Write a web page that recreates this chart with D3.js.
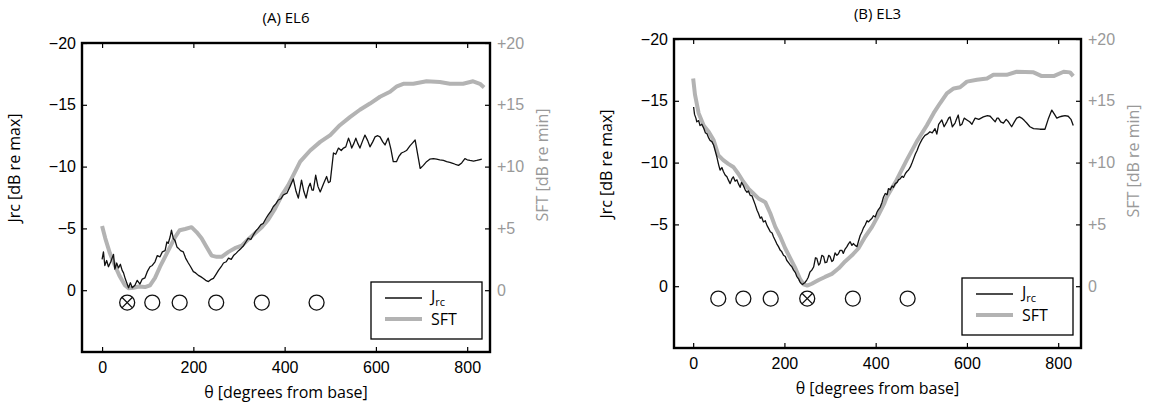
<!DOCTYPE html>
<meta charset="utf-8">
<style>
  body { margin: 0; background: #fff; }
  svg { font-family: "Open Sans", "DejaVu Sans", sans-serif; }
</style>
<body>
<svg width="1151" height="411"></svg>
<script src="https://cdn.jsdelivr.net/npm/d3@7"></script>
<script>

// ---- data: [theta (deg), dB] ----
var jrcA = [[0,-2.5],[3,-3.1],[6,-2.0],[10,-2.4],[14,-1.9],[19,-2.3],[25,-2.9],[28,-1.7],[32,-2.2],[36,-1.8],[40,-2.1],[44,-1.6],[47,-1.4],[51,-0.9],[54,-0.6],[58,-0.2],[62,-0.6],[66,-0.2],[72,-0.4],[77,-0.8],[83,-0.5],[88,-0.9],[94,-1.0],[99,-1.5],[105,-1.9],[110,-2.0],[116,-2.3],[121,-2.8],[127,-2.7],[132,-3.1],[138,-3.2],[142,-3.9],[145,-3.8],[149,-4.3],[152,-4.85],[156,-4.2],[160,-4.0],[164,-3.5],[167,-3.4],[172,-3.2],[178,-3.1],[183,-2.6],[189,-2.2],[194,-1.9],[200,-1.5],[205,-1.4],[211,-1.2],[216,-1.1],[222,-0.95],[227,-0.8],[233,-0.7],[238,-0.85],[244,-0.95],[250,-1.3],[255,-1.6],[261,-1.9],[266,-2.2],[272,-2.3],[277,-2.6],[283,-2.5],[288,-2.8],[294,-3.0],[299,-3.2],[305,-3.4],[310,-3.6],[315,-3.9],[320,-4.2],[326,-4.1],[331,-4.45],[337,-4.8],[342,-5.0],[348,-5.3],[353,-5.4],[359,-5.8],[364,-6.1],[370,-6.4],[375,-6.75],[381,-7.0],[386,-7.3],[392,-7.4],[397,-7.7],[405,-7.85],[412,-8.4],[419,-9.0],[425,-8.0],[430,-7.45],[437,-8.9],[442,-8.0],[447,-7.45],[452,-8.3],[456,-8.65],[460,-8.1],[463,-8.1],[468,-9.3],[473,-8.4],[478,-7.95],[485,-8.6],[492,-9.2],[496,-8.7],[500,-8.8],[507,-11.1],[512,-11.0],[518,-11.5],[524,-11.3],[529,-11.5],[534,-11.6],[540,-12.3],[544,-11.9],[547,-11.5],[552,-11.9],[556,-12.3],[560,-11.9],[565,-11.5],[570,-12.0],[576,-12.55],[582,-12.1],[587,-11.6],[593,-12.0],[598,-12.4],[604,-12.5],[609,-12.4],[615,-12.0],[620,-11.75],[624,-12.1],[627,-12.3],[633,-11.4],[638,-10.4],[645,-10.4],[650,-10.8],[656,-11.1],[662,-11.2],[667,-11.3],[675,-11.7],[680,-11.9],[686,-12.15],[697,-9.85],[704,-10.1],[711,-10.4],[718,-10.6],[726,-10.65],[733,-10.6],[740,-10.55],[748,-10.5],[755,-10.4],[762,-10.35],[770,-10.25],[776,-10.15],[781,-10.1],[788,-10.3],[795,-10.65],[800,-10.55],[806,-10.5],[814,-10.45],[821,-10.5],[826,-10.55],[832,-10.6]]

var sftA = [[0,5.2],[7,4.2],[17,3.0],[28,2.0],[39,1.1],[50,0.4],[58,0.15],[69,0.2],[80,0.3],[94,0.25],[105,0.4],[116,1.0],[127,1.9],[138,2.7],[149,3.5],[160,4.3],[170,4.85],[182,4.95],[196,5.1],[207,4.7],[218,4.2],[229,3.5],[240,2.8],[251,2.7],[262,2.7],[277,3.1],[291,3.4],[306,3.6],[320,4.1],[335,4.6],[350,5.1],[364,5.7],[379,6.6],[394,7.7],[408,8.5],[423,9.6],[434,10.4],[456,11.3],[478,12.0],[500,12.55],[521,13.35],[543,14.0],[565,14.6],[587,15.1],[609,15.65],[631,16.05],[646,16.5],[660,16.7],[682,16.7],[711,16.9],[740,16.85],[762,16.7],[791,16.7],[813,16.9],[828,16.7],[837,16.4]]

var jrcB = [[1,-14.5],[3,-13.9],[6,-13.6],[8,-13.3],[12,-13.4],[15,-13.0],[19,-13.1],[23,-12.8],[27,-12.4],[30,-12.35],[34,-12.0],[37,-11.8],[41,-11.7],[45,-11.4],[48,-11.0],[52,-10.45],[56,-9.8],[59,-9.4],[63,-9.6],[66,-9.3],[70,-9.0],[74,-8.85],[77,-8.6],[81,-8.3],[85,-8.7],[88,-8.85],[92,-8.5],[96,-8.6],[99,-8.3],[103,-8.0],[106,-8.4],[110,-8.15],[114,-7.8],[118,-7.6],[121,-7.7],[125,-7.35],[129,-7.3],[132,-7.0],[136,-6.6],[140,-6.15],[143,-5.9],[147,-5.5],[150,-5.6],[154,-5.2],[158,-5.3],[162,-4.9],[165,-4.7],[169,-4.4],[173,-4.3],[176,-4.0],[180,-3.7],[183,-3.45],[187,-3.2],[191,-2.9],[194,-2.8],[198,-2.5],[202,-2.4],[205,-2.1],[209,-1.9],[213,-1.7],[216,-1.6],[220,-1.3],[224,-1.1],[227,-0.8],[231,-0.6],[234,-0.35],[237,-0.2],[240,-0.15],[245,-0.3],[249,-0.5],[252,-0.7],[256,-1.15],[260,-1.3],[264,-1.55],[268,-2.3],[271,-2.25],[275,-1.7],[278,-1.85],[282,-2.5],[286,-2.4],[289,-1.9],[293,-1.95],[297,-2.5],[300,-2.4],[304,-2.0],[307,-2.1],[311,-2.7],[315,-2.5],[318,-2.6],[322,-2.9],[326,-2.9],[329,-2.65],[333,-3.0],[337,-3.2],[340,-3.4],[344,-3.6],[348,-3.3],[351,-3.45],[355,-3.3],[359,-3.2],[362,-3.6],[366,-4.1],[370,-4.4],[373,-4.7],[377,-4.95],[381,-5.3],[384,-5.2],[388,-5.35],[392,-5.5],[395,-5.7],[399,-5.6],[403,-6.0],[406,-6.2],[410,-6.4],[414,-6.8],[417,-7.2],[421,-7.5],[425,-7.4],[428,-7.9],[432,-7.8],[436,-8.1],[439,-8.0],[443,-8.3],[447,-8.4],[450,-8.6],[454,-8.7],[458,-8.9],[461,-8.8],[465,-9.1],[469,-9.3],[472,-9.4],[476,-9.65],[480,-10.0],[483,-10.3],[487,-10.7],[491,-11.0],[494,-11.3],[497,-11.55],[502,-11.9],[508,-12.2],[513,-12.3],[519,-12.5],[524,-12.4],[530,-12.75],[534,-12.3],[538,-13.1],[545,-13.45],[550,-12.9],[556,-13.3],[560,-13.6],[563,-13.7],[568,-12.9],[574,-13.2],[577,-13.5],[581,-13.85],[585,-13.0],[589,-13.1],[594,-13.6],[600,-13.45],[606,-13.3],[611,-13.1],[615,-13.4],[618,-13.6],[626,-13.5],[636,-13.7],[645,-13.8],[651,-13.75],[657,-13.5],[662,-13.3],[666,-13.6],[669,-13.6],[674,-13.3],[680,-13.2],[686,-13.5],[691,-13.3],[698,-12.9],[704,-13.3],[709,-13.6],[715,-13.7],[720,-13.6],[726,-13.4],[731,-13.2],[738,-12.9],[746,-12.75],[760,-12.7],[771,-12.7],[778,-13.5],[786,-14.25],[792,-13.9],[797,-13.6],[803,-13.7],[808,-13.75],[815,-13.8],[822,-13.75],[828,-13.5],[833,-13.0]]

var sftB = [[0,16.8],[4,15.5],[12,14.0],[23,13.0],[34,12.5],[45,11.8],[55,10.6],[66,10.2],[77,9.9],[88,9.65],[99,9.1],[110,8.45],[121,7.9],[132,7.5],[143,7.1],[158,6.8],[169,5.9],[180,4.8],[191,4.0],[202,3.05],[213,2.25],[224,1.45],[234,0.6],[242,0.15],[250,0.05],[260,0.2],[275,0.5],[289,0.75],[304,1.0],[319,1.45],[333,2.0],[348,2.5],[362,3.05],[377,4.0],[392,4.8],[406,5.75],[419,6.7],[424,7.2],[446,8.6],[468,10.2],[490,11.7],[512,13.0],[527,14.0],[541,14.8],[556,15.6],[571,16.0],[585,16.1],[600,16.55],[622,16.7],[644,16.8],[658,17.1],[687,17.1],[709,17.35],[746,17.3],[764,17.0],[790,17.0],[812,17.35],[826,17.3],[833,17.0]]

// electrode positions (degrees), drawn as circles just under 0 dB
var electrodes = [55, 110, 170, 250, 350, 470]
var markerLevel = 1

var xTicks = [0, 200, 400, 600, 800]
var jrcTicks = [-20, -15, -10, -5, 0]
var sftTicks = [0, 5, 10, 15, 20]

var panels = [
  { title: '(A) EL6', jrc: jrcA, sft: sftA, crossed: 55, left: 82, top: 43, width: 408, height: 309, xmin: -44 },
  { title: '(B) EL3', jrc: jrcB, sft: sftB, crossed: 250, left: 674, top: 39, width: 407, height: 309, xmin: -42 }
]

var svg = d3.select('svg')
var gray = '#b3b3b3'
var labelGray = '#999'

panels.forEach(function (p) {
  var g = svg.append('g').attr('transform', 'translate(' + p.left + ',' + p.top + ')')

  var x = d3.scaleLinear().domain([p.xmin, 850]).range([0, p.width])
  var yJ = d3.scaleLinear().domain([-20, 5]).range([0, p.height])
  var yS = d3.scaleLinear().domain([20, -5]).range([0, p.height])

  // axes (ticks point inwards like matlab)
  g.append('g').attr('transform', 'translate(0,' + p.height + ')')
    .call(d3.axisBottom(x).tickValues(xTicks).tickSize(-5).tickPadding(10))
  g.append('g').call(d3.axisTop(x).tickValues(xTicks).tickSize(-5).tickFormat(''))
  g.append('g').call(d3.axisLeft(yJ).tickValues(jrcTicks).tickSize(-5).tickPadding(6))
  var ar = g.append('g').attr('transform', 'translate(' + p.width + ',0)')
    .call(d3.axisRight(yS).tickValues(sftTicks).tickSize(-5).tickPadding(7)
      .tickFormat(function (d) { return d === 0 ? '0' : '+' + d }))
  g.selectAll('.domain').remove()
  g.selectAll('.tick line').attr('stroke', '#000').attr('stroke-width', 1.2)
  g.selectAll('.tick text').attr('fill', '#000').style('font-size', '16px').attr('font-family', null)
  ar.selectAll('text').attr('fill', labelGray)

  // data lines
  var lineS = d3.line().x(function (d) { return x(d[0]) }).y(function (d) { return yS(d[1]) })
  var lineJ = d3.line().x(function (d) { return x(d[0]) }).y(function (d) { return yJ(d[1]) })

  g.append('path').datum(p.sft).attr('d', lineS)
    .attr('fill', 'none').attr('stroke', gray).attr('stroke-width', 4).attr('stroke-linejoin', 'round')
  g.append('path').datum(p.jrc).attr('d', lineJ)
    .attr('fill', 'none').attr('stroke', '#111').attr('stroke-width', 1.3).attr('stroke-linejoin', 'round')

  // electrode markers
  var mk = g.selectAll('.el').data(electrodes).enter().append('g')
    .attr('transform', function (d) { return 'translate(' + x(d) + ',' + yJ(markerLevel) + ')' })
  mk.append('circle').attr('r', 7.5).attr('fill', 'none').attr('stroke', '#111').attr('stroke-width', 1.3)
  mk.filter(function (d) { return d === p.crossed }).append('path')
    .attr('d', 'M-5.3,-5.3L5.3,5.3M-5.3,5.3L5.3,-5.3')
    .attr('stroke', '#111').attr('stroke-width', 1.3)

  // frame
  g.append('rect').attr('width', p.width).attr('height', p.height)
    .attr('fill', 'none').attr('stroke', '#000').attr('stroke-width', 2.4)

  // legend
  var lg = g.append('g').attr('transform', 'translate(' + (p.width - 119) + ',' + (p.height - 70) + ')')
  lg.append('rect').attr('width', 111).attr('height', 57)
    .attr('fill', '#fff').attr('stroke', '#000').attr('stroke-width', 1.3)
  lg.append('line').attr('x1', 14).attr('x2', 51).attr('y1', 16).attr('y2', 16)
    .attr('stroke', '#111').attr('stroke-width', 1.3)
  lg.append('line').attr('x1', 14).attr('x2', 51).attr('y1', 37).attr('y2', 37)
    .attr('stroke', gray).attr('stroke-width', 4)
  var jt = lg.append('text').attr('x', 60).attr('y', 20).attr('fill', '#000').style('font-size', '16px')
  jt.append('tspan').attr('fill', '#000').text('J')
  jt.append('tspan').attr('fill', '#000').attr('dy', 4).style('font-size', '11px').text('rc')
  lg.append('text').attr('x', 60).attr('y', 43).attr('fill', '#000').style('font-size', '16px').text('SFT')

  // titles and axis labels
  g.append('text').attr('x', p.width / 2).attr('y', -20).attr('text-anchor', 'middle')
    .style('font-size', '15px').text(p.title)
  g.append('text').attr('x', p.width / 2).attr('y', p.height + 46).attr('text-anchor', 'middle')
    .style('font-size', '16px').text('\u03b8  [degrees from base]')
  g.append('text').attr('transform', 'translate(-62,125) rotate(-90)')
    .attr('text-anchor', 'middle').style('font-size', '16px').text('Jrc [dB re max]')
  g.append('text').attr('transform', 'translate(' + (p.width + 58) + ',122) rotate(-90)')
    .attr('text-anchor', 'middle').attr('fill', labelGray).style('font-size', '16px').text('SFT [dB re min]')
})

</script>
</body>
